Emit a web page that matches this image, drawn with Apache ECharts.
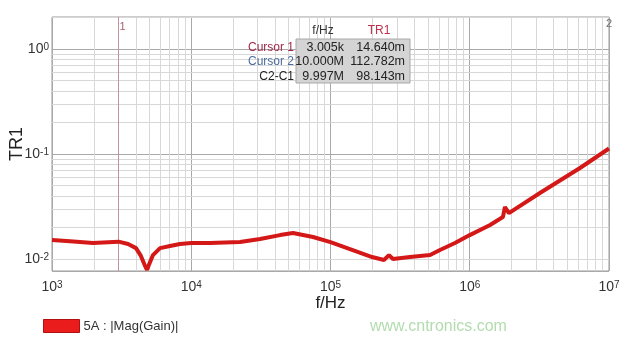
<!DOCTYPE html>
<html><head><meta charset="utf-8">
<script src="https://cdn.jsdelivr.net/npm/echarts@6/dist/echarts.min.js"></script>
<style>html,body{margin:0;padding:0;background:#fff}#c{width:633px;height:345px}</style>
</head><body><div id="c"></div>
<script>
// ---- data ----
const freqHz = [1000,1346,1970,3005,3520,4010,4350,4660,4810,4970,5310,5970,7040,8300,10000,13600,22400,31200,43400,53800,74900,100000,138000,199000,242000,263000,281000,372000,519000,536000,611000,783000,1000000,1400000,1730000,1790000,1910000,3190000,6190000,10000000];
const gainTR1 = [0.0152,0.0148,0.0142,0.01464,0.0139,0.0127,0.0107,0.0086,0.0079,0.0088,0.0109,0.0127,0.0133,0.0139,0.0142,0.0142,0.0145,0.0155,0.0169,0.0177,0.0162,0.0145,0.01245,0.01045,0.0098,0.0109,0.0100,0.01045,0.0109,0.0107,0.0122,0.0142,0.0169,0.0211,0.0251,0.0313,0.0274,0.0425,0.0736,0.1128];
const seriesName = '5A : |Mag(Gain)|';
const xRange = [1000, 10000000];
const yRange = [0.00769, 2.018];
const minorMultipliers = [2,3,4,5,6,7,8,9];
const xDecades = [1e3,1e4,1e5,1e6];
const yDecades = [0.001,0.01,0.1,1];
const cursorFreqs = [3005, 10000000];
const cursorLabels = ['1','2'];
const tableHeader = ['f/Hz','TR1'];
const tableRowNames = ['Cursor 1','Cursor 2','C2-C1'];
const tableFreqs = ['3.005k','10.000M','9.997M'];
const tableValues = ['14.640m','112.782m','98.143m'];
const watermark = 'www.cntronics.com';

const FONT = 'Liberation Sans, Arial, sans-serif';
const minorX = [], minorY = [];
xDecades.forEach(d => minorMultipliers.forEach(m => { const v = d*m; if (v > xRange[0] && v < xRange[1]) minorX.push({xAxis: v}); }));
yDecades.forEach(d => minorMultipliers.forEach(m => { const v = d*m; if (v > yRange[0] && v < yRange[1]) minorY.push({yAxis: v}); }));

function powLabel(v) {
  const l = Math.log10(v), e = Math.round(l);
  if (Math.abs(l - e) > 1e-6) return '';
  return '{b|10}{s|' + e + '}';
}
const richLab = {
  b: {fontSize: 14, color: '#333', fontFamily: FONT},
  s: {fontSize: 10, color: '#333', fontFamily: FONT, verticalAlign: 'top', padding: [0,0,0,0]}
};

const chart = echarts.init(document.getElementById('c'), null, {renderer: 'canvas'});
const rowYs = [48, 62, 77];
const graphics = [
  {type: 'rect', shape: {x: 296, y: 39, width: 114, height: 44}, style: {fill: '#d4d4d4', stroke: '#a8a8a8', lineWidth: 1}, z: 10},
  {type: 'text', x: 323, y: 31, style: {text: tableHeader[0], fill: '#333', font: '12px ' + FONT, textAlign: 'center', textVerticalAlign: 'middle'}, z: 11},
  {type: 'text', x: 379, y: 31, style: {text: tableHeader[1], fill: '#c0304a', font: '12px ' + FONT, textAlign: 'center', textVerticalAlign: 'middle'}, z: 11},
  {type: 'text', x: 370, y: 327, style: {text: watermark, fill: '#b3dcae', font: '16px ' + FONT, textAlign: 'left', textVerticalAlign: 'middle'}, z: 11}
];
const nameColors = ['#a02848', '#4d6c9c', '#222'];
tableRowNames.forEach((n, i) => {
  graphics.push({type: 'text', x: 294, y: rowYs[i], style: {text: n, fill: nameColors[i], font: '12px ' + FONT, textAlign: 'right', textVerticalAlign: 'middle'}, z: 11});
  graphics.push({type: 'text', x: 344, y: rowYs[i], style: {text: tableFreqs[i], fill: '#222', font: '12.5px ' + FONT, textAlign: 'right', textVerticalAlign: 'middle'}, z: 11});
  graphics.push({type: 'text', x: 405, y: rowYs[i], style: {text: tableValues[i], fill: '#222', font: '12.5px ' + FONT, textAlign: 'right', textVerticalAlign: 'middle'}, z: 11});
});

chart.setOption({
  animation: false,
  backgroundColor: '#fff',
  grid: {left: 52, top: 17, right: 24, bottom: 74, containLabel: false, outerBoundsMode: 'none', show: true, borderColor: '#999', borderWidth: 1, backgroundColor: '#fff'},
  xAxis: {
    type: 'log', logBase: 10, min: xRange[0], max: xRange[1],
    name: 'f/Hz', nameLocation: 'middle', nameGap: 24, nameMoveOverlap: false,
    nameTextStyle: {fontSize: 17, color: '#222', fontFamily: FONT, verticalAlign: 'top'},
    axisLine: {show: false}, axisTick: {show: false},
    axisLabel: {formatter: powLabel, rich: richLab, margin: 9, showMinLabel: true, showMaxLabel: true},
    splitLine: {show: true, lineStyle: {color: '#a9a9a9', width: 1}}
  },
  yAxis: {
    type: 'log', logBase: 10, min: yRange[0], max: yRange[1],
    name: 'TR1', nameLocation: 'middle', nameGap: 26, nameMoveOverlap: false,
    nameTextStyle: {fontSize: 18, color: '#222', fontFamily: FONT},
    axisLine: {show: false}, axisTick: {show: false},
    axisLabel: {formatter: powLabel, rich: richLab, margin: 3},
    splitLine: {show: true, lineStyle: {color: '#a9a9a9', width: 1}}
  },
  legend: {
    data: [seriesName], left: 43, top: 319, padding: 0, itemWidth: 36, itemHeight: 13, icon: 'rect', itemGap: 10,
    textStyle: {fontSize: 13, color: '#333', fontFamily: FONT, padding: [0,0,0,-1]},
    itemStyle: {color: '#ea1c1c', borderColor: '#b01010', borderWidth: 1}
  },
  graphic: graphics,
  series: [
    {
      name: 'minor', type: 'line', data: [], silent: true, z: 1,
      markLine: {silent: true, symbol: ['none','none'], label: {show: false}, animation: false,
        lineStyle: {type: 'solid', color: '#d8d8d8', width: 1},
        data: minorX.concat(minorY)}
    },
    {
      name: 'cursors', type: 'line', data: [], silent: true, z: 3,
      markLine: {silent: true, symbol: ['none','none'], label: {show: false}, animation: false,
        data: [{xAxis: cursorFreqs[0], lineStyle: {type: 'solid', color: '#c4929a', width: 1}}]},
      markPoint: {silent: true, animation: false,
        data: [
          {coord: [cursorFreqs[0], yRange[1]], symbol: 'circle', symbolSize: 0,
            label: {show: true, formatter: cursorLabels[0], position: 'right', distance: 1, offset: [0, 10], color: '#a06070', fontSize: 11, fontFamily: FONT}},
          {coord: [cursorFreqs[1], yRange[1]], symbol: 'circle', symbolSize: 0,
            label: {show: true, formatter: cursorLabels[1], position: 'left', distance: -3, offset: [0, 7], color: '#707078', fontSize: 11, fontFamily: FONT}}
        ]}
    },
    {
      name: seriesName, type: 'line', z: 5,
      data: freqHz.map((f, i) => [f, gainTR1[i]]),
      showSymbol: false, symbol: 'none', smooth: false,
      lineStyle: {color: '#d41818', width: 4},
      itemStyle: {color: '#ea1c1c'}
    }
  ]
});
</script></body></html>
